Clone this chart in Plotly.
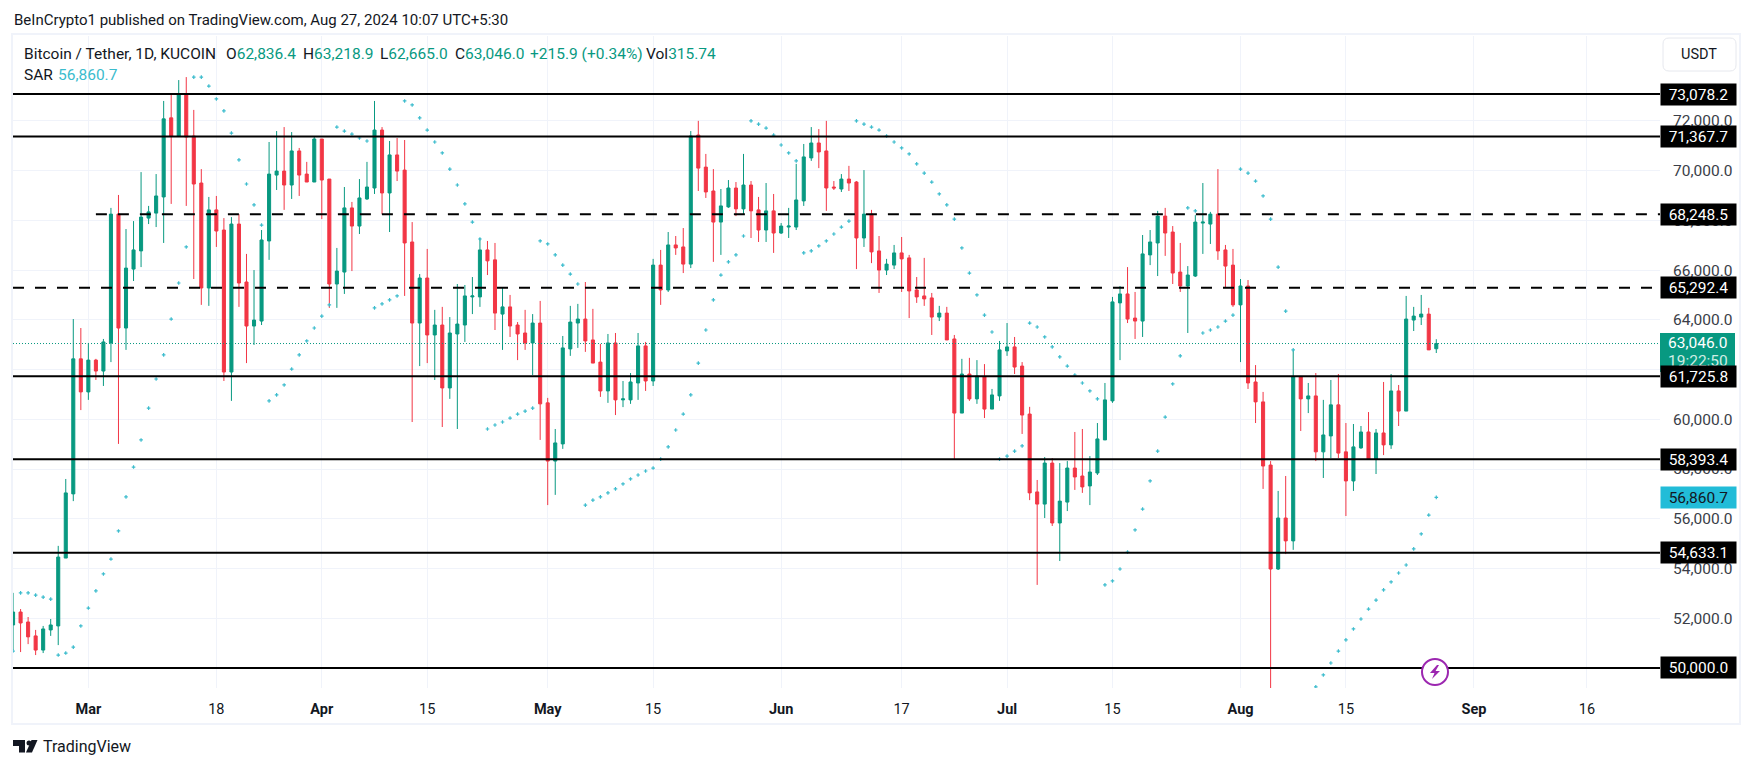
import pandas as pd
import plotly.graph_objects as go

W, H = 1754, 768
L, R, T, B = 13, 1660, 36, 688

first_day = "2024-02-20"
n_days = 190

opens = [
    51730,52250,51850,51290,50720,51530,51690,54420,57000,62430,
    61100,62380,61940,63070,68250,63670,66040,66770,68090,68290,68940,72120,71390,73080,71390,69500,65280,68420,67610,61900,67850,65520,63750,63950,67170,69820,69980,69420,70790,69860,69540,
    71270,69660,65440,65920,68500,67770,68860,69300,71630,69100,70630,70020,67130,63870,65680,63390,63790,61260,63430,63790,64920,64920,66810,66410,64230,64520,63790,63470,63070,63870,
    60660,58320,59010,62830,63870,64030,63190,62300,61140,63070,60780,60780,61460,62950,61540,66200,65200,67010,66930,66240,71430,70140,69180,67930,68540,69300,68460,69420,68420,67610,68380,
    67490,67730,67730,68780,70510,71110,70790,69340,69260,69660,69540,67290,68250,66770,66000,66200,66690,66490,65200,64960,64880,64110,64270,63230,60250,61820,60820,61700,60410,60940,
    62750,62910,62140,60210,57080,56590,58240,55830,56670,58040,57720,57320,57840,59170,60740,64680,65040,64070,63950,66610,67090,68170,67530,65920,65360,65760,67890,67850,68250,66810,66200,
    64600,65360,61500,60700,58160,53980,56030,55110,61700,60820,60940,58690,59330,60580,58690,57520,58850,59490,58400,59450,58970,61140,60330,63990,64110,64230,62836.4,
]
highs = [
    53020,52370,52050,51530,51690,51970,54910,57600,64030,63670,
    63070,62430,63230,68500,69020,67650,67970,69940,68580,69860,72800,73080,73640,73760,72440,70060,68940,68980,68090,68130,68250,66650,66000,67610,71150,71590,71750,71550,70910,70350,71390,
    71270,69660,66890,69340,68740,69660,70350,72800,71750,71190,71310,71230,67930,65840,66850,64400,64520,64110,65440,65400,65720,67290,67170,67090,65280,65000,63910,64400,64230,64760,
    60860,59610,63350,64560,64640,65520,64440,63030,63430,63470,61540,61860,63470,63110,66450,66810,67530,67370,67690,71590,72000,70670,70060,69260,69620,69540,70670,69580,68940,69500,69060,
    67890,68500,70270,71070,71750,71670,72000,69580,69860,70190,69580,70020,68420,67370,66450,67010,67330,66610,65720,66490,65080,64560,64520,63390,62430,62470,62380,62220,61220,63150,
    63870,63310,62300,60500,57560,58480,58440,58240,58320,59490,59610,58520,59850,61460,64920,65360,66120,65120,67410,67610,68380,68500,67770,67090,66160,68210,69500,68340,70060,67010,66850,
    65640,65600,62180,61100,58320,57120,57720,62790,61700,61460,61860,60780,61580,61820,59850,59810,59730,60290,59610,61500,61820,61380,64960,64520,65000,64480,63218.9,
]
lows = [
    50720,50640,50960,50520,50600,51290,50920,54420,56710,60370,
    60780,61580,61340,62300,59010,62790,65560,66120,67850,67730,67090,68660,71350,68580,65640,64600,64560,66930,61540,60740,64520,62260,62990,63790,66410,69220,68420,68860,68980,69540,69540,
    68050,64480,64480,65040,65960,67450,68820,69060,68250,67530,69580,64960,59890,62140,62260,61580,59690,60820,59610,63110,64230,64520,65800,63590,62790,63310,62380,62790,61780,59170,
    56550,56960,58810,62550,62870,62710,62260,60900,60660,60170,60490,60620,60780,61140,61340,64600,65120,66610,65880,66080,69180,68900,66330,66610,68500,68170,68250,67290,67130,67130,66690,
    67450,67290,67610,68580,70390,70100,68380,69220,69140,69180,66040,66930,66280,65080,65800,66040,65120,64070,64680,64560,63390,63950,63190,58400,60250,60740,60620,60050,60410,60740,
    62550,61820,59410,56750,53340,56030,55710,54300,56310,57160,57040,56550,57760,59170,60660,62380,63870,63230,63310,66200,65760,66570,65440,65120,63470,65720,66650,67050,66410,65280,64520,
    62300,61220,59850,57200,49150,53940,54580,54750,59530,60250,58320,57640,58440,58440,56110,57120,58810,58400,57800,58560,58810,59730,60330,63550,63790,62790,62665.0,
]
closes = [
    52250,51810,51250,50720,51570,51730,54460,57040,62430,61100,
    62380,61940,63110,68250,63670,66080,66810,68130,68340,68980,72080,71390,73080,71350,69460,65280,68420,67570,61900,67850,65480,63750,63990,67210,69860,69980,69420,70790,69820,69540,71270,
    69620,65440,65960,68500,67770,68900,69340,71630,69100,70630,69980,67090,63870,65680,63390,63790,61260,63470,63830,64960,64960,66810,66370,64270,64520,63750,63430,63070,63870,60620,
    58320,59050,62870,63910,64030,63150,62260,61140,63070,60780,60820,61500,62950,61540,66200,65200,67010,66890,66240,71390,70100,69140,67930,68580,69300,68460,69420,68380,67610,68380,67490,
    67770,67770,68820,70550,71110,70750,69300,69300,69660,69500,67290,68250,66730,66000,66240,66690,66450,65160,64920,64840,64110,64270,63190,60250,61820,60820,61740,60410,60980,62790,
    62910,62100,60170,57040,56590,58240,55830,56710,58040,57680,57280,57880,59210,60780,64720,65040,64030,63950,66650,67130,68170,67490,65880,65360,65800,67930,67930,68250,66770,66160,64600,
    65360,61460,60700,58120,53980,56030,55110,61700,60820,60940,58690,59370,60580,58640,57520,58890,59490,58400,59450,58970,61140,60330,64030,64150,64230,62790,63046.0,
]
sar = [
    50680,53020,53020,52930,52850,52770,50520,50600,50840,51690,
    52410,53100,53780,54380,55510,56880,58080,59170,60450,61620,62590,64030,65480,66930,73760,73760,73400,72880,72400,71510,70430,69460,68620,67810,60740,60980,61380,62020,62590,63150,63670,
    64150,64600,71750,71590,71470,71310,71190,64480,64640,64800,64960,72800,72640,72120,71630,71150,70710,70060,69420,68660,67930,67250,59610,59770,59890,60050,60210,60330,60450,67170,
    67050,66610,66200,65840,65440,56550,56750,56880,57040,57200,57400,57600,57760,57920,58040,58400,58890,59570,60210,60980,62260,63590,64800,65800,66330,66610,67370,72000,71870,71710,71430,
    71030,70710,70390,66690,66770,66970,67170,67450,67730,67970,72000,71870,71750,71630,71390,71150,70910,70670,70270,69900,69540,69060,68620,68050,66890,65880,65000,64190,63510,58400,
    58520,58720,58930,63870,63710,63310,62910,62510,62140,61780,61460,61140,60820,53340,53500,53980,54660,55550,56390,57520,58720,60090,61420,62550,68500,68380,63470,63590,63710,63950,64190,
    70060,69900,69580,68980,68050,66120,64350,62790,None,None,49240,49720,50200,50680,51130,51570,51970,52370,52730,53140,53460,53820,54140,54790,55390,56150,56860.7,
]

solid_levels = [73078.2, 71367.7, 61725.8, 58393.4, 54633.1, 50000.0]
dashed_levels = [68248.5, 65292.4]
dashed_starts = ["2024-03-02", "2024-02-19 23:50"]
last_price = 63046.0
last_sar = 56860.7

y_ticks = [50000, 52000, 54000, 56000, 58000, 60000, 62000, 64000, 66000, 68000, 70000, 72000]
x_ticks = ["2024-03-01", "2024-03-18", "2024-04-01", "2024-04-15", "2024-05-01", "2024-05-15",
           "2024-06-01", "2024-06-17", "2024-07-01", "2024-07-15", "2024-08-01", "2024-08-15",
           "2024-09-01", "2024-09-16"]
x_labels = ["<b>Mar</b>", "18", "<b>Apr</b>", "15", "<b>May</b>", "15", "<b>Jun</b>", "17",
            "<b>Jul</b>", "15", "<b>Aug</b>", "15", "<b>Sep</b>", "16"]
x_range = ["2024-02-19 23:50", "2024-09-25 17:00"]
y_range = [49195, 75412]

for arr in (opens, highs, lows, closes, sar):
    assert len(arr) == n_days, len(arr)
dates = pd.date_range(first_day, periods=n_days)

GREEN, RED = "#089981", "#F23645"
TEAL = "#3BBCCD"
INK = "#131722"
FONT = "Roboto"

def fx(p): return (p - L) / (R - L)
def fy(p): return (B - p) / (B - T)

fig = go.Figure()
fig.add_trace(go.Candlestick(
    x=dates, open=opens, high=highs, low=lows, close=closes, whiskerwidth=0,
    increasing=dict(line=dict(color=GREEN, width=1), fillcolor=GREEN),
    decreasing=dict(line=dict(color=RED, width=1), fillcolor=RED),
    hoverinfo="skip", showlegend=False))
fig.add_trace(go.Scatter(
    x=dates, y=sar, mode="markers", showlegend=False, hoverinfo="skip",
    marker=dict(symbol="cross", size=3, color=TEAL, line=dict(width=0))))
fig.add_trace(go.Scatter(
    x=x_range, y=[last_price, last_price], mode="lines", showlegend=False, hoverinfo="skip",
    line=dict(color=GREEN, width=1, dash="1px,2px")))
for lv in solid_levels:
    fig.add_trace(go.Scatter(x=x_range, y=[lv, lv], mode="lines", showlegend=False, hoverinfo="skip",
                             line=dict(color="#000000", width=2)))
for lv, st in zip(dashed_levels, dashed_starts):
    fig.add_trace(go.Scatter(x=[st, x_range[1]], y=[lv, lv], mode="lines", showlegend=False, hoverinfo="skip",
                             line=dict(color="#000000", width=2, dash="11px,11px")))

def txt(x, y, s, size=15.5, color=INK, anchor="left"):
    return dict(xref="paper", yref="paper", x=fx(x), y=fy(y), text=s, showarrow=False,
                xanchor=anchor, yanchor="middle", font=dict(family=FONT, size=size, color=color), borderpad=0)

ann = [
    txt(13, 20, "BeInCrypto1 published on TradingView.com, Aug 27, 2024 10:07 UTC+5:30", 15),
    txt(23, 54, "Bitcoin / Tether, 1D, KUCOIN"),
    txt(225, 54, f'O<span style="color:{GREEN}">62,836.4</span>'),
    txt(302, 54, f'H<span style="color:{GREEN}">63,218.9</span>'),
    txt(379, 54, f'L<span style="color:{GREEN}">62,665.0</span>'),
    txt(454, 54, f'C<span style="color:{GREEN}">63,046.0</span>'),
    txt(529, 54, "+215.9 (+0.34%)", color=GREEN),
    txt(645, 54, f'Vol<span style="color:{GREEN}">315.74</span>'),
    txt(23, 74.5, "SAR"),
    txt(57, 74.5, "56,860.7", color=TEAL),
    txt(1699, 54.5, "USDT", 14.5, anchor="center"),
    txt(42, 746, "TradingView", 16),
    txt(1698, 343, f"{last_price:,.1f}", 15.5, color="#FFFFFF", anchor="center"),
    txt(1698, 360.5, "19:22:50", 15.5, color="#CFEDE4", anchor="center"),
]

def price_label(v, bg="#000000", fg="#FFFFFF"):
    return dict(xref="paper", yref="y", x=fx(1660), y=v, xanchor="left", yanchor="middle",
                text=f"{v:,.1f}", showarrow=False, bgcolor=bg, width=75, height=21, align="center",
                font=dict(family=FONT, size=15.5, color=fg), borderpad=0)

ann.append(price_label(last_sar, bg="#22BCD8", fg=INK))
for lv in solid_levels + dashed_levels:
    ann.append(price_label(lv))

def poly(points):
    return "M " + " L ".join(f"{fx(x):.6f},{fy(y):.6f}" for x, y in points) + " Z"

def rounded(x0, y0, x1, y1, r):
    a, b, c, d = fx(x0), fy(y0), fx(x1), fy(y1)
    rx, ry = r / (R - L), r / (B - T)
    return (f"M {a+rx},{b} L {c-rx},{b} Q {c},{b} {c},{b-ry} L {c},{d+ry} Q {c},{d} {c-rx},{d} "
            f"L {a+rx},{d} Q {a},{d} {a},{d+ry} L {a},{b-ry} Q {a},{b} {a+rx},{b} Z")

shapes = [
    dict(type="rect", xref="paper", yref="paper", x0=fx(12), x1=fx(1740), y0=fy(724), y1=fy(34),
         line=dict(color="#F0F3FA", width=2), layer="below"),
    dict(type="path", xref="paper", yref="paper", path=rounded(1663, 38, 1736, 71, 6),
         line=dict(color="#E6E8EE", width=1), fillcolor="#FFFFFF"),
    # current price tag background
    dict(type="rect", xref="paper", yref="paper", x0=fx(1660), x1=fx(1735), y0=fy(372), y1=fy(333),
         line=dict(width=0), fillcolor=GREEN),
    # bolt badge
    dict(type="circle", xref="paper", yref="paper", x0=fx(1422), x1=fx(1448), y0=fy(685), y1=fy(659),
         line=dict(color="#9C27B0", width=2), fillcolor="#FFFFFF"),
    dict(type="path", xref="paper", yref="paper", line=dict(width=0), fillcolor="#9C27B0",
         path=poly([(1437, 665), (1430, 673), (1434.5, 673), (1432, 679), (1440, 671), (1435.5, 671), (1439, 665)])),
    # TradingView mark
    dict(type="path", xref="paper", yref="paper", line=dict(width=0), fillcolor=INK,
         path=poly([(13, 740), (25, 740), (25, 752.5), (19, 752.5), (19, 746), (13, 746)])),
    dict(type="circle", xref="paper", yref="paper", x0=fx(26.5), x1=fx(31.5), y0=fy(745.5), y1=fy(740.5),
         line=dict(width=0), fillcolor=INK),
    dict(type="path", xref="paper", yref="paper", line=dict(width=0), fillcolor=INK,
         path=poly([(31.5, 740), (37.5, 740), (32, 752.5), (26, 752.5)])),
]

fig.update_layout(
    width=W, height=H, autosize=False, paper_bgcolor="#FFFFFF", plot_bgcolor="#FFFFFF",
    margin=dict(l=L, r=W - R, t=T, b=H - B, pad=0), boxgap=0.42, showlegend=False,
    hovermode=False, annotations=ann, shapes=shapes,
    font=dict(family=FONT, size=15, color=INK),
    xaxis=dict(type="date", range=x_range, rangeslider=dict(visible=False), tickvals=x_ticks, ticktext=x_labels,
               showgrid=True, gridcolor="#F0F3FA", gridwidth=1, zeroline=False, showline=False,
               ticks="outside", ticklen=8, tickcolor="rgba(0,0,0,0)",
               tickfont=dict(family=FONT, size=14.5, color=INK)),
    yaxis=dict(side="right", range=y_range, tickvals=y_ticks, tickformat=",.1f", showgrid=True,
               gridcolor="#F0F3FA", gridwidth=1, zeroline=False, showline=False, ticks="outside", ticklen=9,
               tickcolor="rgba(0,0,0,0)", tickfont=dict(family=FONT, size=15.5, color="#3A3E48")),
)

fig.write_html("out.html", config=dict(displayModeBar=False),
               post_script="document.body.style.margin='0';document.body.style.overflow='hidden';")
